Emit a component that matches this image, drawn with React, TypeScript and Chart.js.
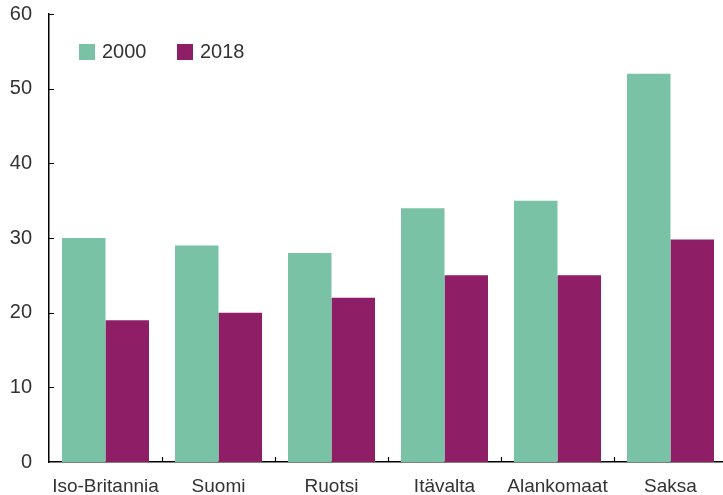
import React, { useEffect, useRef } from "react";
import { Chart, registerables } from "chart.js";

Chart.register(...registerables);

const categories = ["Iso-Britannia", "Suomi", "Ruotsi", "Itävalta", "Alankomaat", "Saksa"];
const values2000 = [30, 29, 28, 34, 35, 52];
const values2018 = [19, 20, 22, 25, 25, 29.8];
const yTicks = [0, 10, 20, 30, 40, 50, 60];
const seriesLabels = ["2000", "2018"];
const seriesColors = ["#7AC2A5", "#8E1E66"];

const FONT = "'Liberation Sans', Arial, sans-serif";
const TEXT = "#333333";

const innerTicks = {
  id: "innerTicks",
  afterDraw(chart: any) {
    const { ctx, chartArea, scales } = chart;
    const y = scales.y;
    const x = scales.x;
    ctx.save();
    ctx.strokeStyle = "#000";
    ctx.lineWidth = 1.2;
    ctx.beginPath();
    for (const v of yTicks) {
      if (v === 0) continue;
      const py = Math.round(y.getPixelForValue(v)) + 0.5;
      ctx.moveTo(chartArea.left, py);
      ctx.lineTo(chartArea.left + 5, py);
    }
    for (let i = 0; i < categories.length - 1; i++) {
      const px = Math.round((x.getPixelForValue(i) + x.getPixelForValue(i + 1)) / 2) + 0.5;
      ctx.moveTo(px, chartArea.bottom);
      ctx.lineTo(px, chartArea.bottom - 5);
    }
    ctx.stroke();

    // legend
    ctx.font = `20px ${FONT}`;
    ctx.textBaseline = "middle";
    ctx.textAlign = "left";
    let lx = chartArea.left + 30;
    const ly = chartArea.top + 30;
    chart.data.datasets.forEach((ds: any) => {
      ctx.fillStyle = ds.backgroundColor;
      ctx.fillRect(lx, ly, 16, 16);
      ctx.fillStyle = TEXT;
      ctx.fillText(ds.label, lx + 23, ly + 8.5);
      lx += 98;
    });
    ctx.restore();
  },
};

export default function App() {
  const ref = useRef<HTMLCanvasElement>(null);
  useEffect(() => {
    if (!ref.current) return;
    const chart = new Chart(ref.current, {
      type: "bar",
      data: {
        labels: categories,
        datasets: [
          {
            label: seriesLabels[0],
            data: values2000,
            backgroundColor: seriesColors[0],
            categoryPercentage: 0.77,
            barPercentage: 1,
          },
          {
            label: seriesLabels[1],
            data: values2018,
            backgroundColor: seriesColors[1],
            categoryPercentage: 0.77,
            barPercentage: 1,
          },
        ],
      },
      options: {
        animation: false,
        responsive: true,
        maintainAspectRatio: false,
        layout: { padding: 0 },
        plugins: {
          tooltip: { enabled: false },
          legend: { display: false },
        },
        scales: {
          x: {
            grid: { display: false, drawTicks: false },
            border: { color: "#000", width: 1.5 },
            ticks: { color: TEXT, font: { family: FONT, size: 19 }, padding: 13, maxRotation: 0 },
            afterFit(scale: any) {
              scale.height = 33;
            },
          },
          y: {
            min: 0,
            max: 60,
            grid: { display: false, drawTicks: false },
            border: { color: "#000", width: 1.5 },
            ticks: { stepSize: 10, color: TEXT, font: { family: FONT, size: 20 }, padding: 17 },
            afterFit(scale: any) {
              scale.width = 49;
            },
          },
        },
      },
      plugins: [innerTicks],
    });
    return () => chart.destroy();
  }, []);
  return (
    <div style={{ position: "fixed", left: 0, top: -15, width: 727, height: 510 }}>
      <canvas ref={ref} />
    </div>
  );
}
